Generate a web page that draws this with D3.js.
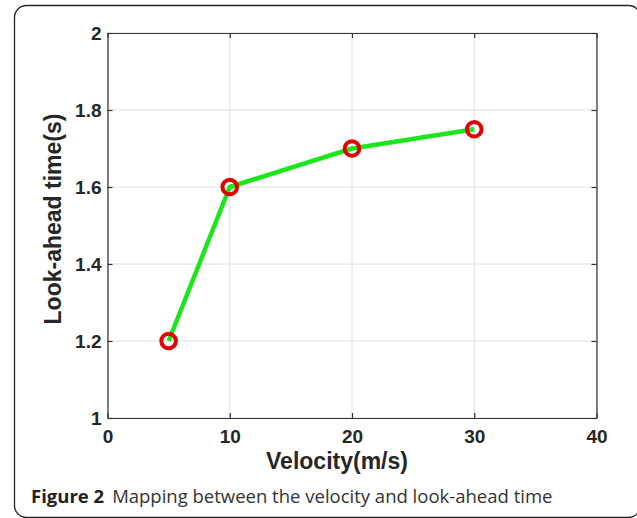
<!DOCTYPE html>
<html>
<head>
<meta charset="utf-8">
<script src="https://cdn.jsdelivr.net/npm/d3@7"></script>
<style>
  body { margin: 0; background: #fff; }
  svg { display: block; }
</style>
</head>
<body>
<svg width="637" height="518"></svg>
<script>
/* --------------- datos --------------- */
const velocity = [5, 10, 20, 30];
const lookAhead = [1.2, 1.6, 1.7, 1.75];
const xTicks = [0, 10, 20, 30, 40];
const yTicks = [1, 1.2, 1.4, 1.6, 1.8, 2];
const yTickLabels = ["1", "1.2", "1.4", "1.6", "1.8", "2"];

const svg = d3.select("svg");

// marco de la figura
svg.append("rect")
    .attr("x", 14.5).attr("y", 5.5)
    .attr("width", 626).attr("height", 512)
    .attr("rx", 12)
    .attr("fill", "none")
    .attr("stroke", "#222")
    .attr("stroke-width", 1.3);

const mLeft = 107.5, mRight = 596.5, mTop = 33, mBottom = 418;

const x = d3.scaleLinear().domain([0, 40]).range([mLeft, mRight]);
const y = d3.scaleLinear().domain([1, 2]).range([mBottom, mTop]);

// rejilla
svg.append("g")
    .selectAll("line.gx")
    .data(xTicks)
    .enter().append("line")
    .attr("x1", d => x(d)).attr("x2", d => x(d))
    .attr("y1", mTop).attr("y2", mBottom)
    .attr("stroke", "#dedede").attr("stroke-width", 1);

svg.append("g")
    .selectAll("line.gy")
    .data(yTicks)
    .enter().append("line")
    .attr("x1", mLeft).attr("x2", mRight)
    .attr("y1", d => y(d)).attr("y2", d => y(d))
    .attr("stroke", "#dedede").attr("stroke-width", 1);

// ejes (ticks hacia dentro, estilo matlab)
const font = "'Liberation Sans', Arial, sans-serif";

const xAxis = svg.append("g")
    .attr("transform", `translate(0,${mBottom})`)
    .call(d3.axisBottom(x).tickValues(xTicks).tickSizeInner(-5).tickSizeOuter(0).tickPadding(12));
const yAxis = svg.append("g")
    .attr("transform", `translate(${mLeft},0)`)
    .call(d3.axisLeft(y).tickValues(yTicks).tickFormat((d, i) => yTickLabels[i]).tickSizeInner(-5).tickSizeOuter(0).tickPadding(6));
const xTop = svg.append("g")
    .attr("transform", `translate(0,${mTop})`)
    .call(d3.axisTop(x).tickValues(xTicks).tickSizeInner(-5).tickSizeOuter(0).tickFormat(""));
const yRight = svg.append("g")
    .attr("transform", `translate(${mRight},0)`)
    .call(d3.axisRight(y).tickValues(yTicks).tickSizeInner(-5).tickSizeOuter(0).tickFormat(""));

[xAxis, yAxis, xTop, yRight].forEach(a => {
    a.select(".domain").attr("stroke", "#333").attr("stroke-width", 1.2);
    a.selectAll(".tick line").attr("stroke", "#333").attr("stroke-width", 1.2);
    a.selectAll("text")
        .attr("font-family", font)
        .attr("font-weight", "bold")
        .attr("font-size", 19)
        .attr("fill", "#262626");
});

// linea
const line = d3.line().x(d => x(d[0])).y(d => y(d[1]));
const pts = velocity.map((v, i) => [v, lookAhead[i]]);

svg.append("path")
    .datum(pts)
    .attr("d", line)
    .attr("fill", "none")
    .attr("stroke", "#1be61b")
    .attr("stroke-width", 4.5)
    .attr("stroke-linejoin", "round");

svg.selectAll("circle.m")
    .data(pts)
    .enter().append("circle")
    .attr("cx", d => x(d[0]))
    .attr("cy", d => y(d[1]))
    .attr("r", 7.3)
    .attr("fill", "none")
    .attr("stroke", "#e30000")
    .attr("stroke-width", 4);

// etiquetas de ejes
svg.append("text")
    .attr("x", 337)
    .attr("y", 469)
    .attr("text-anchor", "middle")
    .attr("font-family", font)
    .attr("font-weight", "bold")
    .attr("font-size", 23)
    .attr("fill", "#262626")
    .text("Velocity(m/s)");

svg.append("text")
    .attr("transform", "translate(61,219) rotate(-90)")
    .attr("text-anchor", "middle")
    .attr("font-family", font)
    .attr("font-weight", "bold")
    .attr("font-size", 23)
    .attr("fill", "#262626")
    .text("Look-ahead time(s)");

// pie de figura
const cap = svg.append("text")
    .attr("x", 31)
    .attr("y", 503)
    .attr("font-family", "'Open Sans', sans-serif")
    .attr("font-size", 18.5)
    .attr("fill", "#222");
cap.append("tspan").attr("font-weight", "bold").text("Figure 2");
cap.append("tspan").attr("dx", 8).attr("fill", "#333").text("Mapping between the velocity and look-ahead time");
</script>
</body>
</html>
